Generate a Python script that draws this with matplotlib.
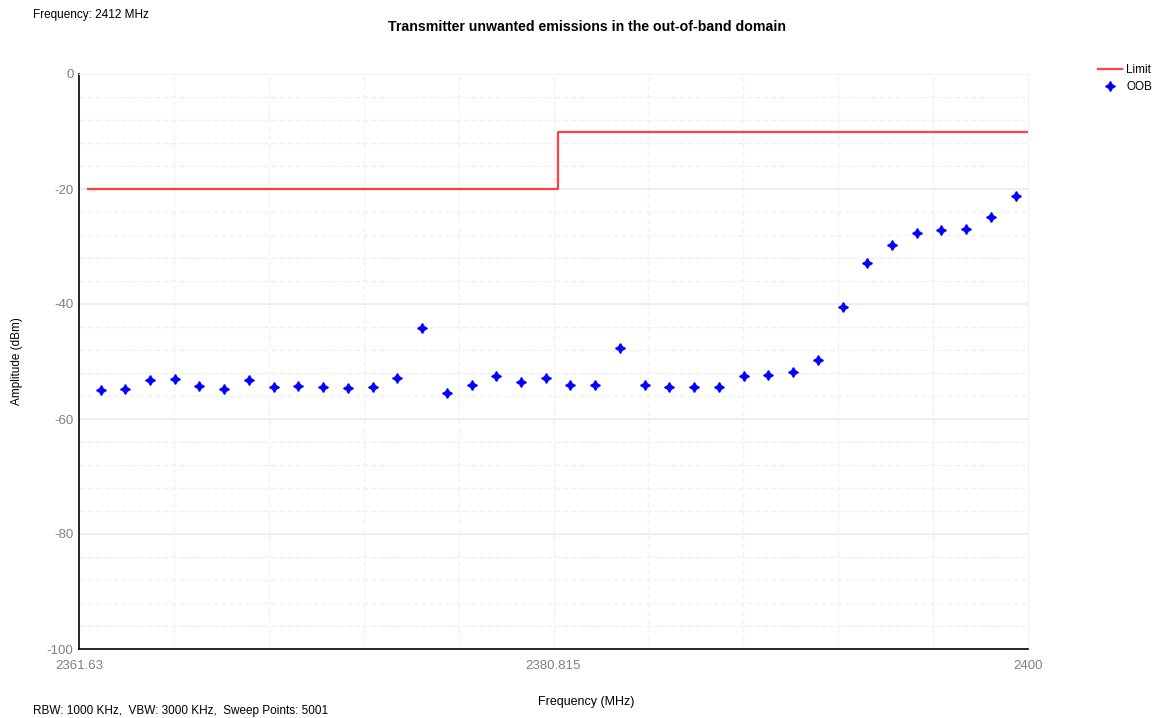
import numpy as np
import matplotlib
matplotlib.use("Agg")
import matplotlib.pyplot as plt
from matplotlib.ticker import FixedLocator

plt.rcParams['font.family'] = ['Liberation Sans', 'DejaVu Sans']
plt.rcParams['axes.unicode_minus'] = False

# ---- data ----
oob_freq = [2362.5, 2363.5, 2364.5, 2365.5, 2366.5, 2367.5, 2368.5, 2369.5,
            2370.5, 2371.5, 2372.5, 2373.5, 2374.5, 2375.5, 2376.5, 2377.5,
            2378.5, 2379.5, 2380.5, 2381.5, 2382.5, 2383.5, 2384.5, 2385.5,
            2386.5, 2387.5, 2388.5, 2389.5, 2390.5, 2391.5, 2392.5, 2393.5,
            2394.5, 2395.5, 2396.5, 2397.5, 2398.5, 2399.5]
oob_level = [-55.0, -54.8, -53.3, -53.0, -54.3, -54.7, -53.3, -54.5,
             -54.2, -54.5, -54.6, -54.5, -52.9, -44.1, -55.4, -54.0,
             -52.6, -53.5, -52.8, -54.0, -54.0, -47.7, -54.0, -54.5,
             -54.4, -54.4, -52.6, -52.3, -51.8, -49.7, -40.6, -32.9,
             -29.7, -27.7, -27.1, -27.0, -24.8, -21.3]
limit_freq = [2362.0, 2381.0, 2381.0, 2400.0]
limit_level = [-20.0, -20.0, -10.0, -10.0]
x_min, x_max = 2361.63, 2400.0
x_tick_vals = [2361.63, 2380.815, 2400.0]
x_tick_labels = ['2361.63', '2380.815', '2400']
y_tick_vals = [0, -20, -40, -60, -80, -100]

title = 'Transmitter unwanted emissions in the out-of-band domain'
top_note = 'Frequency: 2412 MHz'
bottom_note = 'RBW: 1000 KHz,  VBW: 3000 KHz,  Sweep Points: 5001'

# ---- figure ----
W, H = 1164, 718
fig = plt.figure(figsize=(W / 100, H / 100), dpi=100)
ax = fig.add_axes([79 / W, 1 - 649 / H, (1028 - 79) / W, (649 - 74) / H])

ax.set_xlim(x_min, x_max)
ax.set_ylim(-100, 0)

# grid
grid_col = '#f0f0f0'
for xv in np.linspace(x_min, x_max, 11)[1:-1]:
    ax.axvline(xv, color=grid_col, lw=1, ls=(0, (4, 2)), zorder=0)
for yv in range(-96, 0, 4):
    if yv % 20 == 0:
        ax.axhline(yv, color='#ebebeb', lw=1.2, zorder=0)
    else:
        ax.axhline(yv, color=grid_col, lw=1, ls=(0, (4, 2)), zorder=0)

ax.plot(limit_freq, limit_level, color='#ff2020', lw=1.6, alpha=0.85,
        label='Limit', zorder=2)
ax.plot(oob_freq, oob_level, ls='none', marker=(4, 1, 0), ms=7,
        color='#0000ff', mec='#0000ff', label='OOB', zorder=3)

ax.xaxis.set_major_locator(FixedLocator(x_tick_vals))
ax.set_xticklabels(x_tick_labels)
ax.yaxis.set_major_locator(FixedLocator(y_tick_vals))
ax.tick_params(axis='both', colors='#808080', labelsize=9.5, length=0)
ax.tick_params(axis='x', pad=8)
ax.tick_params(axis='y', pad=4)

for s in ['top', 'right']:
    ax.spines[s].set_color(grid_col)
for s in ['left', 'bottom']:
    ax.spines[s].set_color('black')
    ax.spines[s].set_linewidth(1.2)

fig.text(586 / W, 1 - 702 / H, 'Frequency (MHz)', ha='center', va='center',
         fontsize=9)
fig.text(17 / W, 1 - 361 / H, 'Amplitude (dBm)', ha='center', va='center',
         rotation=90, fontsize=8.5)

fig.text(587 / W, 1 - 27 / H, title, ha='center', va='center',
         fontsize=10.2, fontweight='bold')
fig.text(33 / W, 1 - 15 / H, top_note, ha='left', va='center', fontsize=8.5)
fig.text(33 / W, 1 - 711 / H, bottom_note, ha='left', va='center', fontsize=8.5)

fig.legend(loc='upper left', bbox_to_anchor=(1098 / W, 1 - 64 / H),
           frameon=False, fontsize=8.5, handlelength=2.0, handletextpad=0.4,
           labelspacing=0.45, borderaxespad=0, borderpad=0)

fig.savefig('out.png', dpi=100)
